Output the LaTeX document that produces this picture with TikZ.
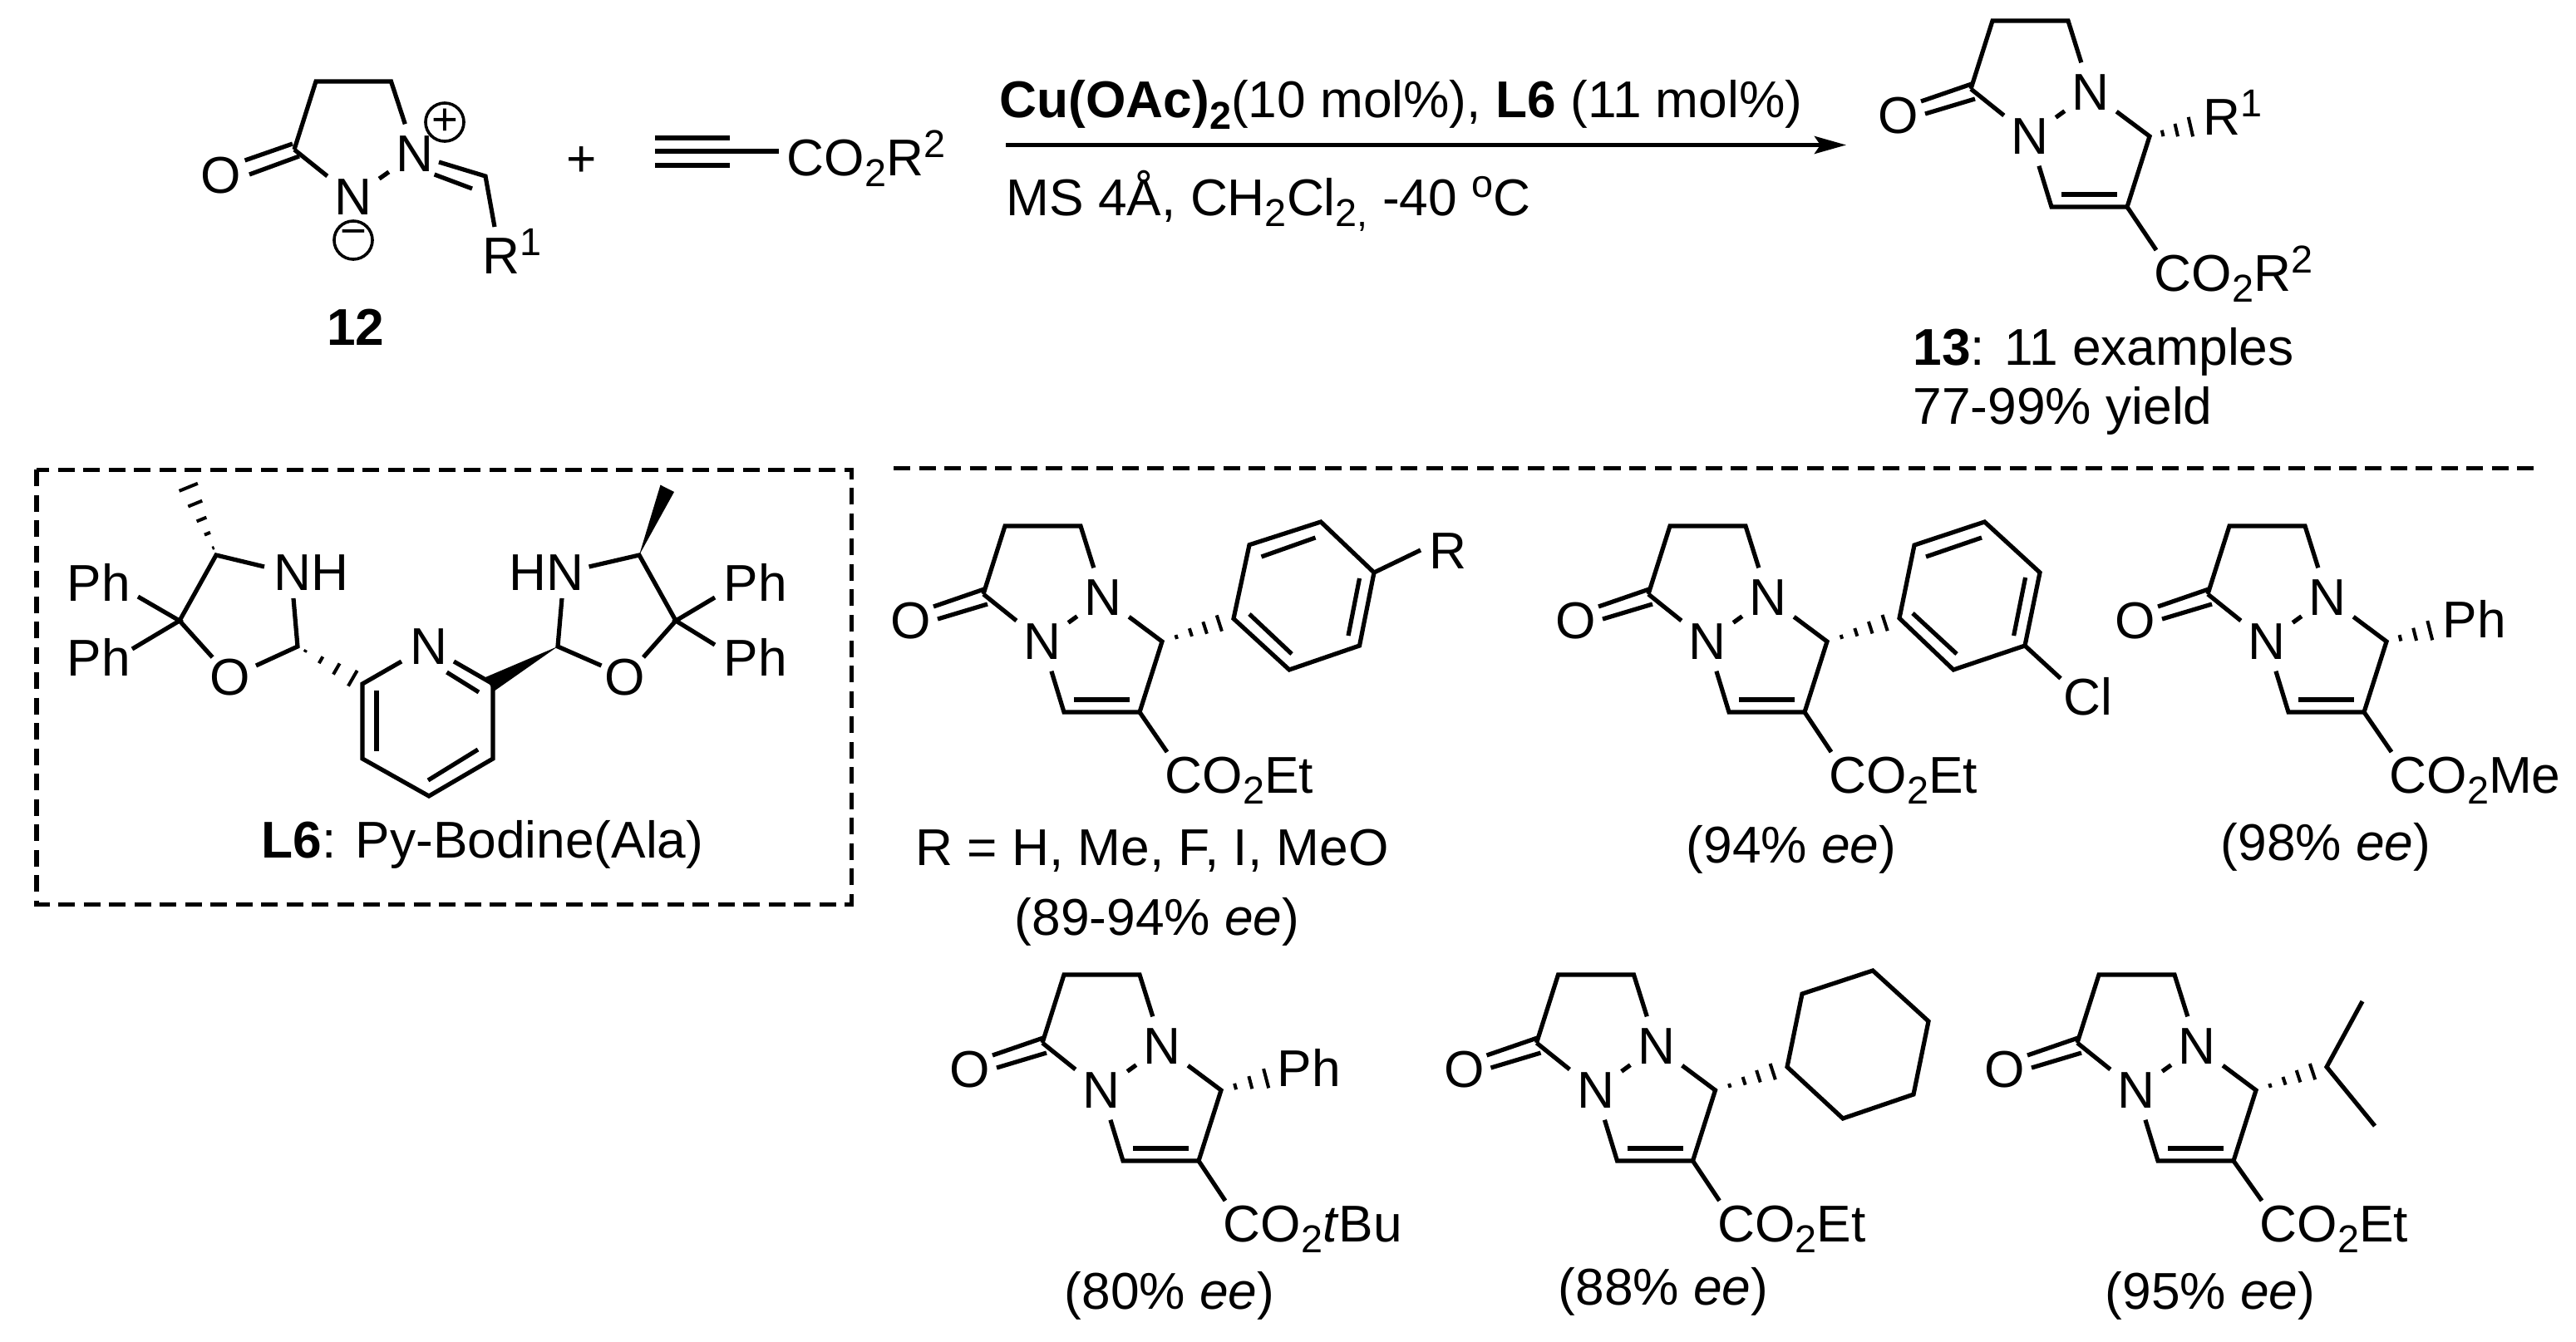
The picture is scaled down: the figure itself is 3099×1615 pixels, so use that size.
\documentclass[tikz,border=0pt]{standalone}
\usepackage{fontspec}
\setmainfont{Liberation Sans}
\usetikzlibrary{calc,arrows.meta}
\newcommand\chemdn[1]{\raisebox{-.22em}{\fontsize{13.3}{13.3}\selectfont #1}}
\newcommand\chemup[1]{\raisebox{.35em}{\fontsize{13.3}{13.3}\selectfont #1}}
\tikzset{
  bond/.style={line width=.052cm,line cap=butt,line join=miter},
  hashln/.style={line width=.04cm},
  txt/.style={inner sep=0pt,anchor=base west},
  ctr/.style={inner sep=0pt,anchor=base},
  atom/.style={inner xsep=.08cm,inner ysep=.135cm,text height=.43cm,text depth=0pt,anchor=center},
  chg/.style={draw,circle,minimum size=.46cm,inner sep=0pt,line width=.036cm,font=\fontsize{15.5}{15.5}\selectfont},
  dashbox/.style={line width=.05cm,dash pattern=on .2cm off .105cm},
  every node/.append style={font=\fontsize{17.7}{21}\selectfont}
}
% hashed wedge from #1 towards #2, strokes at fractions #3
\newcommand\hashb[3]{%
  \foreach \hp in {#3}{%
    \pgfmathsetmacro\hl{\hp*3.6}%
    \coordinate (hm) at ($(#1)!\hp!(#2)$);
    \draw[hashln] ($(hm)!\hl pt!90:(#2)$) -- ($(hm)!\hl pt!-90:(#2)$);
  }}
% the bicyclic core: name, x, y, ester text, ester dx, ester dy
\newcommand\core[6]{%
\begin{scope}[shift={(#2,#3)}]
  \node[atom] (#1n1) at (0,0) {N};
  \node[atom] (#1n2) at (73,-53) {N};
  \node[atom] (#1o) at (-158,-25) {O};
  \coordinate (#1a) at (-45,-139);
  \coordinate (#1b) at (46,-139);
  \coordinate (#1c) at (-71,-57);
  \coordinate (#1ch) at (144,0);
  \coordinate (#1ca) at (117,85);
  \coordinate (#1cb) at (26,85);
  \coordinate (#1d1) at (-131,-42);
  \coordinate (#1d2) at (-70,-63);
  \coordinate (#1d3) at (-126,-27);
  \coordinate (#1d4) at (-66,-45);
  \coordinate (#1i1) at (38,70);
  \coordinate (#1i2) at (105,70);
  \coordinate (#1e) at (#5,#6-49);
  \node[txt] (#1est) at (#5-3,#6) {#4};
  \draw[bond] (#1c) -- (#1a) -- (#1b) -- (#1n2);
  \draw[bond] (#1c) -- (#1n1);
  \draw[bond] (#1n1) -- (#1n2);
  \draw[bond] (#1n2) -- (#1ch) -- (#1ca) -- (#1cb) -- (#1n1);
  \draw[bond] (#1d1) -- (#1d2);
  \draw[bond] (#1d3) -- (#1d4);
  \draw[bond] (#1i1) -- (#1i2);
  \draw[bond] (#1ca) -- (#1e);
\end{scope}}
\begin{document}
\begin{tikzpicture}[x=.01cm,y=-.01cm]
\useasboundingbox (0,0) rectangle (3099,1615);

% --- reactant 12
\node[atom,inner ysep=.04cm] (rN1) at (425,237) {N};
\node[atom] (rN2) at (499,185) {N};
\node[atom] (rO) at (266,211) {O};
\coordinate (ra) at (380,98);
\coordinate (rb) at (470.5,98);
\coordinate (rc) at (354,180);
\coordinate (rd1) at (294.6,193);
\coordinate (rd2) at (352,173);
\coordinate (rd3) at (300,210);
\coordinate (rd4) at (360,188);
\coordinate (re1) at (528,195);
\coordinate (re2) at (584,212);
\coordinate (re3) at (522.6,210);
\coordinate (re4) at (568,227);
\coordinate (rr) at (595,273);
\draw[bond] (rc) -- (ra) -- (rb) -- (rN2);
\draw[bond] (rc) -- (rN1);
\draw[bond] (rN1) -- (rN2);
\draw[bond] (rd1) -- (rd2);
\draw[bond] (rd3) -- (rd4);
\draw[bond] (re1) -- (re2) -- (rr);
\draw[bond] (re3) -- (re4);
\node[chg] (rplus) at (535,147) {+};
\node[chg] (rminus) at (425,289) {\raisebox{.11em}{−}};
\node[txt] (rR) at (580,329) {R\chemup{1}};
\node[ctr] (l12) at (428,415) {\textbf{12}};
\node[atom,inner sep=0pt] (plus) at (700,187) {\raisebox{-.07em}{+}};

% --- alkyne
\coordinate (y1) at (788,166);
\coordinate (y2) at (878,166);
\coordinate (y3) at (788,182);
\coordinate (y4) at (937,182);
\coordinate (y5) at (788,199);
\coordinate (y6) at (878,199);
\draw[bond] (y1) -- (y2);
\draw[bond] (y3) -- (y4);
\draw[bond] (y5) -- (y6);
\node[txt] (yt) at (946,211) {CO\chemdn{2}R\chemup{2}};

% --- reaction arrow
\coordinate (as) at (1210,174.5);
\coordinate (ae) at (2221,174.5);
\draw[line width=.05cm,-{Stealth[length=.38cm,width=.21cm,inset=.07cm]}] (as) -- (ae);
\node[txt] (cond1) at (1202,141.7) {\textbf{Cu(OAc)\chemdn{2}}(10 mol\%), \textbf{L6} (11 mol\%)};
\node[txt] (cond2) at (1210,259) {MS 4Å, CH\chemdn{2}Cl\chemdn{2,} -40 \chemup{o}C};

% --- product 13
\core{t}{2442}{164}{CO\chemdn{2}R\chemup{2}}{152}{186}
\coordinate (th) at (2638,152);
\hashb{tch}{th}{.3,.62,.95}
\node[txt] (tR) at (2650,162.5) {R\chemup{1}};
\node[txt] (t1) at (2301,439) {\textbf{13}: 11 examples};
\node[txt] (t2) at (2301,510.5) {77-99\% yield};

% --- ligand box
\coordinate (bx1) at (44,565);
\coordinate (bx2) at (1024,1088);
\draw[dashbox] (bx1) rectangle (bx2);
\coordinate (ln1) at (1075,563);
\coordinate (ln2) at (3055,563);
\draw[dashbox] (ln1) -- (ln2);

% --- L6
\node[atom] (lN) at (516,778) {N};
\coordinate (lc2) at (436,823);
\coordinate (lc3) at (436,913);
\coordinate (lc4) at (516,958);
\coordinate (lc5) at (593,913);
\coordinate (lc6) at (593,823);
\coordinate (li1) at (453,831);
\coordinate (li2) at (453,904);
\coordinate (li3) at (575,902);
\coordinate (li4) at (515,939);
\coordinate (li5) at (537.5,809);
\coordinate (li6) at (576,833);
\coordinate (li7) at (546,796);
\coordinate (li8) at (483,796);
\draw[bond] (li8) -- (lc2) -- (lc3) -- (lc4) -- (lc5) -- (lc6) -- (li7);
\draw[bond] (li1) -- (li2);
\draw[bond] (li3) -- (li4);
\draw[bond] (li5) -- (li6);
% left ring
\node[atom] (lO) at (277,814.5) {O};
\node[txt] (lNH) at (329,710) {NH};
\coordinate (la) at (358,778);
\coordinate (lb) at (216,747);
\coordinate (ld) at (260,668);
\coordinate (le) at (318,682);
\coordinate (lf) at (353,720);
\coordinate (lg) at (308,801);
\coordinate (lk) at (255.6,791);
\coordinate (lp1) at (166,718);
\coordinate (lp2) at (159,781);
\coordinate (lm) at (225,582);
\draw[bond] (lk) -- (lb) -- (ld) -- (le);
\draw[bond] (lf) -- (la) -- (lg);
\draw[bond] (lp1) -- (lb) -- (lp2);
\hashb{ld}{lm}{.1,.3,.5,.72,.95}
\hashb{la}{lc2}{.12,.36,.6,.85}
\node[txt] (lPh1) at (80,723.6) {Ph};
\node[txt] (lPh2) at (80,813.5) {Ph};
% right ring
\node[atom] (rrO) at (752,814.5) {O};
\node[txt] (rrNH) at (612,710) {HN};
\coordinate (ra1) at (671,778);
\coordinate (rb1) at (813,747);
\coordinate (rd0) at (769,668);
\coordinate (re0) at (708.6,682);
\coordinate (rf0) at (676,720);
\coordinate (rg0) at (723.5,801);
\coordinate (rk0) at (774,791);
\coordinate (rp1) at (860,719);
\coordinate (rp2) at (860,776);
\coordinate (rw1) at (794.5,583.6);
\coordinate (rw2) at (811,592);
\coordinate (rw3) at (584,815);
\coordinate (rw4) at (594,832);
\draw[bond] (rk0) -- (rb1) -- (rd0) -- (re0);
\draw[bond] (rf0) -- (ra1) -- (rg0);
\draw[bond] (rp1) -- (rb1) -- (rp2);
\fill (rd0) -- (rw1) -- (rw2) -- cycle;
\fill (ra1) -- (rw3) -- (rw4) -- cycle;
\node[txt] (rPh1) at (870,723.6) {Ph};
\node[txt] (rPh2) at (870,813.5) {Ph};
\node[txt] (l6) at (314,1032.7) {\textbf{L6}: Py-Bodine(Ala)};

% --- product A
\core{p}{1254}{772}{CO\chemdn{2}Et}{150}{182}
\coordinate (pr1) at (1484,744.5);
\coordinate (pr2) at (1503,655.7);
\coordinate (pr3) at (1589,628);
\coordinate (pr4) at (1653,689);
\coordinate (pr5) at (1635.5,777);
\coordinate (pr6) at (1551,806);
\coordinate (pi1) at (1517.5,670);
\coordinate (pi2) at (1582.5,647);
\coordinate (pi3) at (1635.5,696);
\coordinate (pi4) at (1622,765);
\coordinate (pi5) at (1503,739);
\coordinate (pi6) at (1554,787);
\coordinate (pb) at (1709,662);
\draw[bond] (pr1) -- (pr2) -- (pr3) -- (pr4) -- (pr5) -- (pr6) -- cycle;
\draw[bond] (pi1) -- (pi2);
\draw[bond] (pi3) -- (pi4);
\draw[bond] (pi5) -- (pi6);
\draw[bond] (pr4) -- (pb);
\hashb{pch}{pr1}{.2,.4,.6,.8}
\node[txt] (pR) at (1718.5,684) {R};
\node[ctr] (pl1) at (1386,1041) {R = H, Me, F, I, MeO};
\node[ctr] (pl2) at (1392,1125.6) {(89-94\% \emph{ee})};

% --- product B
\core{q}{2054}{772}{CO\chemdn{2}Et}{149}{182}
\coordinate (qr1) at (2285,744);
\coordinate (qr2) at (2303,656);
\coordinate (qr3) at (2387.5,628);
\coordinate (qr4) at (2454,689);
\coordinate (qr5) at (2436,777);
\coordinate (qr6) at (2350,806);
\coordinate (qi1) at (2317,670);
\coordinate (qi2) at (2384,647);
\coordinate (qi3) at (2436.6,695);
\coordinate (qi4) at (2422.6,765);
\coordinate (qi5) at (2301,738);
\coordinate (qi6) at (2354,787);
\coordinate (qb) at (2479,816.5);
\draw[bond] (qr1) -- (qr2) -- (qr3) -- (qr4) -- (qr5) -- (qr6) -- cycle;
\draw[bond] (qi1) -- (qi2);
\draw[bond] (qi3) -- (qi4);
\draw[bond] (qi5) -- (qi6);
\draw[bond] (qr5) -- (qb);
\hashb{qch}{qr1}{.2,.4,.6,.8}
\node[txt] (qCl) at (2482,860) {Cl};
\node[ctr] (ql) at (2155,1038.6) {(94\% \emph{ee})};

% --- product C
\core{s}{2727}{772}{CO\chemdn{2}Me}{150}{182}
\coordinate (sh) at (2926,758);
\hashb{sch}{sh}{.3,.62,.95}
\node[txt] (sPh) at (2938,767) {Ph};
\node[ctr] (sl) at (2798,1035) {(98\% \emph{ee})};

% --- product D
\core{u}{1325}{1312}{CO\chemdn{2}\emph{t}Bu}{149}{182}
\coordinate (uh) at (1526,1297);
\hashb{uch}{uh}{.3,.62,.95}
\node[txt] (uPh) at (1536,1307) {Ph};
\node[ctr] (ul) at (1407,1575) {(80\% \emph{ee})};

% --- product E
\core{v}{1919.5}{1312}{CO\chemdn{2}Et}{149}{182}
\coordinate (vr1) at (2150,1284);
\coordinate (vr2) at (2168,1196);
\coordinate (vr3) at (2253,1168);
\coordinate (vr4) at (2320,1229);
\coordinate (vr5) at (2302,1317);
\coordinate (vr6) at (2217,1346);
\draw[bond] (vr1) -- (vr2) -- (vr3) -- (vr4) -- (vr5) -- (vr6) -- cycle;
\hashb{vch}{vr1}{.2,.4,.6,.8}
\node[ctr] (vl) at (2001,1570) {(88\% \emph{ee})};

% --- product F
\core{w}{2570}{1312}{CO\chemdn{2}Et}{151}{182}
\coordinate (wc) at (2799,1284);
\coordinate (wu) at (2842,1205);
\coordinate (wd) at (2857,1355);
\draw[bond] (wu) -- (wc) -- (wd);
\hashb{wch}{wc}{.2,.4,.6,.8}
\node[ctr] (wl) at (2659,1575) {(95\% \emph{ee})};
\end{tikzpicture}
\end{document}
